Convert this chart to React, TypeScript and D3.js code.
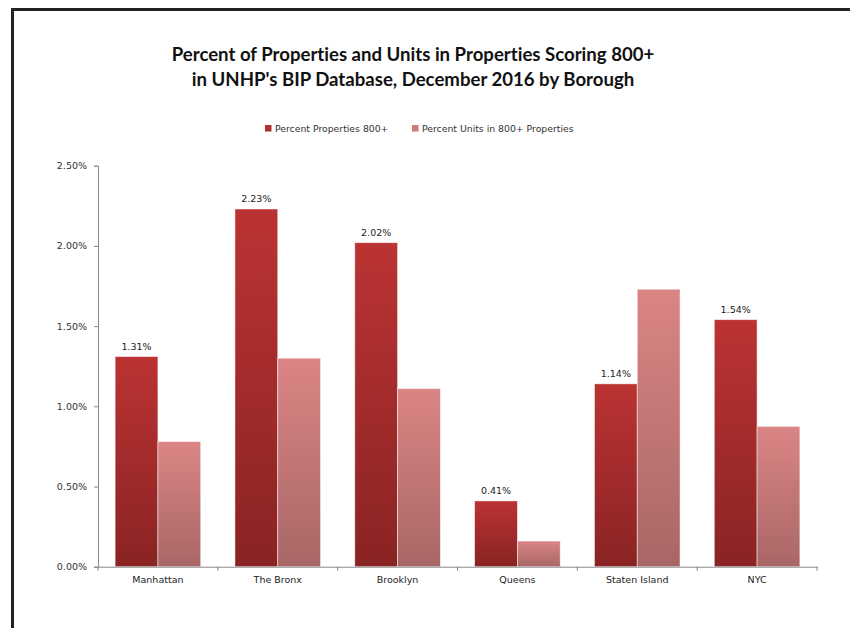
import React, { useEffect, useRef } from 'react';
import * as d3 from 'd3';

const boroughs = ['Manhattan', 'The Bronx', 'Brooklyn', 'Queens', 'Staten Island', 'NYC'];
const pctProperties = [1.31, 2.23, 2.02, 0.41, 1.14, 1.54];
const pctUnits = [0.78, 1.3, 1.11, 0.16, 1.73, 0.875];
const yTicks = [0, 0.5, 1.0, 1.5, 2.0, 2.5];
const seriesNames = ['Percent Properties 800+', 'Percent Units in 800+ Properties'];

export default function App() {
  const svgRef = useRef<SVGSVGElement>(null);

  useEffect(() => {
    if (!svgRef.current) return;
    const svg = d3.select(svgRef.current);
    svg.selectAll('*').remove();

    const left = 98;
    const right = 817;
    const top = 165.7;
    const bottom = 566.7;
    const font = 'DejaVu Sans, Verdana, sans-serif';

    // gradients
    const defs = svg.append('defs');
    const gradRed = defs.append('linearGradient').attr('id', 'gRed').attr('x1', 0).attr('x2', 0).attr('y1', 0).attr('y2', 1);
    gradRed.append('stop').attr('offset', '0%').attr('stop-color', '#bb3333');
    gradRed.append('stop').attr('offset', '100%').attr('stop-color', '#8a2323');
    const gradPink = defs.append('linearGradient').attr('id', 'gPink').attr('x1', 0).attr('x2', 0).attr('y1', 0).attr('y2', 1);
    gradPink.append('stop').attr('offset', '0%').attr('stop-color', '#db8585');
    gradPink.append('stop').attr('offset', '100%').attr('stop-color', '#a96666');

    // frame
    svg.append('rect')
      .attr('x', 12.5).attr('y', 9.5)
      .attr('width', 900).attr('height', 700)
      .style('fill', 'none')
      .style('stroke', '#222')
      .style('stroke-width', 3);

    // title
    const title = svg.append('text')
      .attr('text-anchor', 'middle')
      .style('font-family', 'Lato, sans-serif')
      .style('font-size', '18.6px')
      .style('font-weight', '700')
      .style('font-variant-ligatures', 'none')
      .style('fill', '#111');
    title.append('tspan').attr('x', 413).attr('y', 61).text('Percent of Properties and Units in Properties Scoring 800+');
    title.append('tspan').attr('x', 413).attr('y', 86).text("in UNHP's BIP Database, December 2016 by Borough");

    // legend
    const legendX = [265, 412];
    const legendFill = ['#b03030', '#cc7a7a'];
    seriesNames.forEach((name, i) => {
      svg.append('rect')
        .attr('x', legendX[i]).attr('y', 125)
        .attr('width', 6.5).attr('height', 6.5)
        .style('fill', legendFill[i]);
      svg.append('text')
        .attr('x', legendX[i] + 10).attr('y', 132)
        .style('font-family', font)
        .style('font-size', '9.3px')
        .style('fill', '#333')
        .text(name);
    });

    const x = d3.scaleBand().domain(boroughs).range([left, right]).paddingInner(0).paddingOuter(0);
    const inner = d3.scaleBand().domain(['a', 'b']).range([0, x.bandwidth()]).paddingOuter(0.4).paddingInner(0);
    const y = d3.scaleLinear().domain([0, 2.5]).range([bottom, top]);

    // y axis
    const yAxis = svg.append('g')
      .attr('transform', `translate(${left},0)`)
      .call(d3.axisLeft(y).tickValues(yTicks).tickSize(4).tickFormat(d => `${(+d).toFixed(2)}%`));
    yAxis.select('.domain').style('stroke', '#888');
    yAxis.selectAll('.tick line').style('stroke', '#888');
    yAxis.selectAll('.tick text')
      .attr('x', -11)
      .style('font-family', font)
      .style('font-size', '9.5px')
      .style('fill', '#333');

    // bars
    boroughs.forEach((b, i) => {
      const bx = x(b)!;
      const vals = [pctProperties[i], pctUnits[i]];
      ['a', 'b'].forEach((k, j) => {
        svg.append('rect')
          .attr('x', bx + inner(k)!)
          .attr('y', y(vals[j]))
          .attr('width', inner.bandwidth())
          .attr('height', bottom - y(vals[j]))
          .style('fill', j === 0 ? 'url(#gRed)' : 'url(#gPink)')
          .style('stroke', 'rgba(255,255,255,0.6)')
          .style('stroke-width', 0.8);
      });
      svg.append('text')
        .attr('x', bx + inner('a')! + inner.bandwidth() / 2)
        .attr('y', y(pctProperties[i]) - 7)
        .attr('text-anchor', 'middle')
        .style('font-family', font)
        .style('font-size', '9.5px')
        .style('fill', '#222')
        .text(`${pctProperties[i].toFixed(2)}%`);
    });

    // x axis
    const xAxis = svg.append('g')
      .attr('transform', `translate(0,${bottom})`)
      .call(d3.axisBottom(x).tickSize(0).tickSizeOuter(0));
    xAxis.select('.domain').style('stroke', '#888');
    xAxis.selectAll('.tick text')
      .attr('dy', 0)
      .attr('y', 16)
      .style('font-family', font)
      .style('font-size', '9.5px')
      .style('fill', '#222');
    // category separators
    const edges = boroughs.map(b => x(b)!).concat([right]);
    edges.forEach(e => {
      xAxis.append('line')
        .attr('x1', e).attr('x2', e)
        .attr('y1', 0).attr('y2', 4)
        .style('stroke', '#888');
    });
  }, []);

  return (
    <svg
      ref={svgRef}
      width={850}
      height={628}
      style={{ position: 'absolute', left: 0, top: 0, background: '#fff' }}
    />
  );
}
